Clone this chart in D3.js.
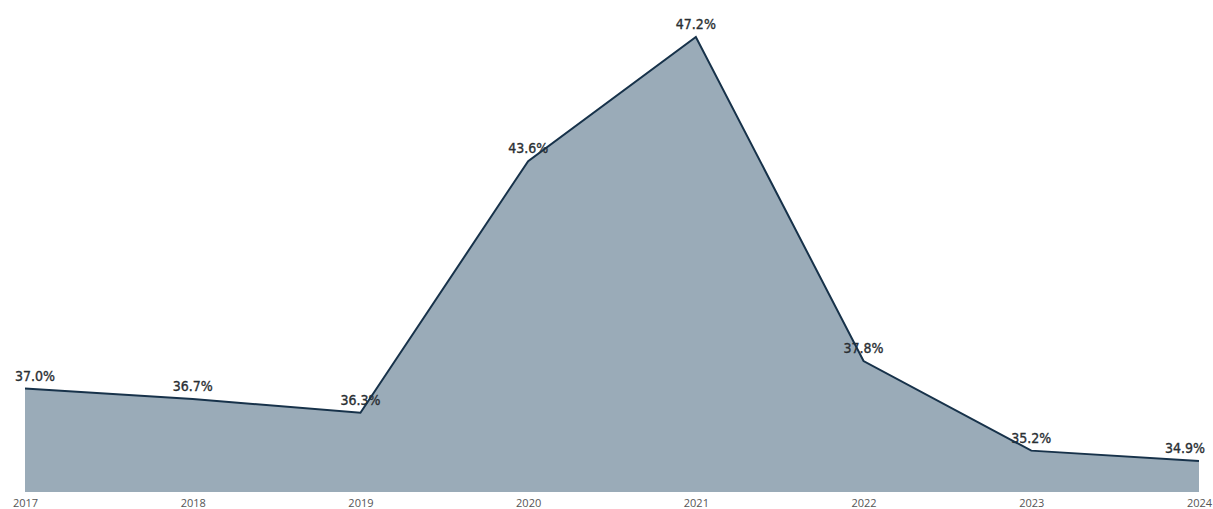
<!DOCTYPE html>
<html>
<head>
<meta charset="utf-8">
<script src="https://cdn.jsdelivr.net/npm/d3@7"></script>
<style>
  body { margin: 0; background: #fff; }
</style>
</head>
<body>
<div id="chart"></div>
<script>
// donnees
const years = ["2017", "2018", "2019", "2020", "2021", "2022", "2023", "2024"];
const values = [37.0, 36.7, 36.3, 43.6, 47.2, 37.8, 35.2, 34.9];

const width = 1213,
    height = 509;

const svg = d3.select("#chart")
    .append("svg")
    .attr("width", width)
    .attr("height", height);

const x = d3.scalePoint()
    .domain(years)
    .range([25, 1199]);

const y = d3.scaleLinear()
    .domain([34, 47.2])
    .range([492, 37]);

const data = years.map((yr, i) => ({ year: yr, value: values[i] }));

// aire
const area = d3.area()
    .x(d => x(d.year))
    .y0(y(34))
    .y1(d => y(d.value));

svg.append("path")
    .datum(data)
    .attr("d", area)
    .style("fill", "#9aabb8");

// etiquettes de valeurs
svg.append("g")
    .selectAll("text")
    .data(data)
    .join("text")
    .attr("x", d => {
        if (d.year == "2017") return x(d.year) + 10;
        if (d.year == "2024") return x(d.year) - 14;
        return x(d.year);
    })
    .attr("y", d => y(d.value) - 8)
    .attr("text-anchor", "middle")
    .style("font-family", "'DejaVu Sans Condensed', 'DejaVu Sans', sans-serif")
    .style("font-stretch", "condensed")
    .style("font-size", "14px")
    .style("fill", "#2a2f33")
    .style("stroke", "#2a2f33")
    .style("stroke-width", "0.35px")
    .text(d => d.value.toFixed(1) + "%");

// ligne
const line = d3.line()
    .x(d => x(d.year))
    .y(d => y(d.value));

svg.append("path")
    .datum(data)
    .attr("d", line)
    .style("fill", "none")
    .style("stroke", "#17324a")
    .style("stroke-width", 2)
    .style("stroke-linejoin", "miter");

// axe x
const axis = svg.append("g")
    .attr("transform", "translate(0,492)")
    .call(d3.axisBottom(x).tickSize(0).tickPadding(7));

axis.select(".domain").remove();
axis.selectAll("text")
    .style("font-family", "'Open Sans', sans-serif")
    .style("font-size", "11px")
    .style("fill", "#555");
</script>
</body>
</html>
